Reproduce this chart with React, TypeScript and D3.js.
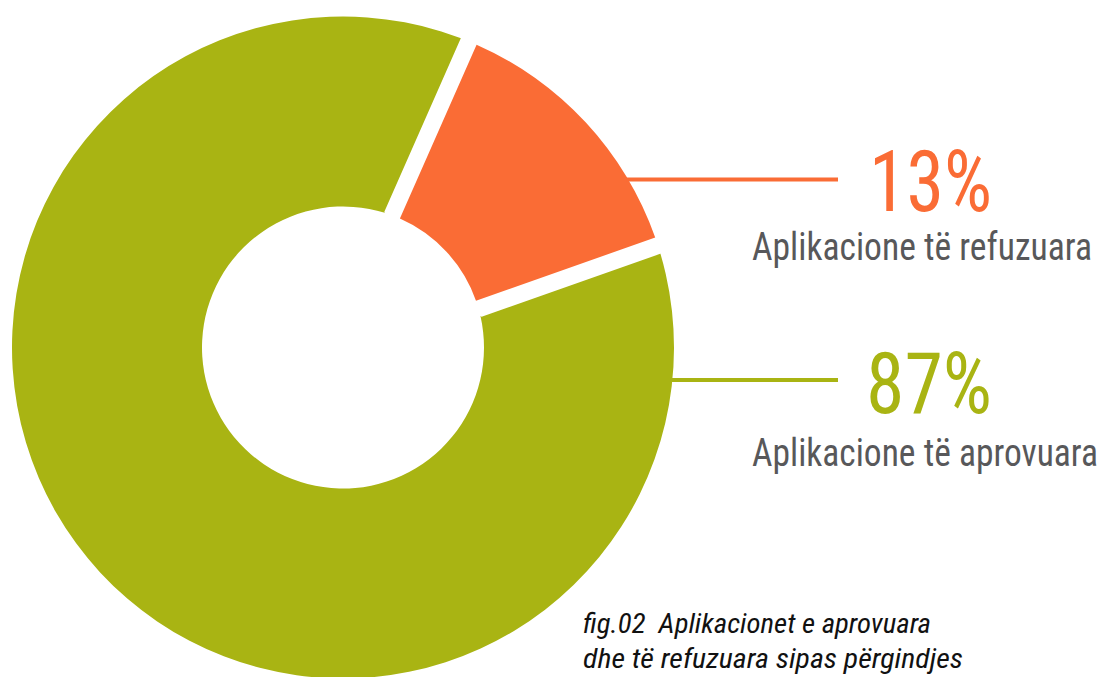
import React, { useEffect, useRef } from "react";
import * as d3 from "d3";

// shares (percent)
const categories = ["refuzuara", "aprovuara"];
const shares = [13, 87];
const percentLabels = ["13%", "87%"];
const categoryLabels = ["Aplikacione të refuzuara", "Aplikacione të aprovuara"];
const captionLines = ["fig.02  Aplikacionet e aprovuara", "dhe të refuzuara sipas përgindjes"];

const colors: Record<string, string> = {
  refuzuara: "#fa6c35",
  aprovuara: "#a9b413",
};

export default function App() {
  const ref = useRef<SVGSVGElement>(null);

  useEffect(() => {
    const svg = d3.select(ref.current);
    svg.selectAll("*").remove();

    const cx = 343;
    const cy = 347.5;
    const outerR = 331;
    const innerR = 141;
    const font = "'Roboto Condensed', 'Liberation Sans Narrow', 'DejaVu Sans Condensed', Roboto, sans-serif";

    const data = categories.map((c, i) => ({ key: c, value: shares[i] }));

    // orange slice starts a bit right of 12 o'clock
    const start = (23.8 * Math.PI) / 180;
    const pie = d3
      .pie<{ key: string; value: number }>()
      .sort(null)
      .value((d) => d.value)
      .startAngle(start)
      .endAngle(start + 2 * Math.PI);

    const arcs = pie(data);
    const arc = d3
      .arc<d3.PieArcDatum<{ key: string; value: number }>>()
      .innerRadius(innerR)
      .outerRadius(outerR);

    const g = svg.append("g").attr("transform", `translate(${cx},${cy})`);

    // green first, then orange with a wide white halo as the gap
    const order = [arcs[1], arcs[0]];
    g.selectAll("path")
      .data(order)
      .join("path")
      .attr("d", arc)
      .attr("fill", (d) => colors[d.data.key])
      .attr("stroke", (d) => (d.data.key === "refuzuara" ? "#fff" : "none"))
      .attr("stroke-width", 34)
      .attr("stroke-linejoin", "bevel")
      .style("paint-order", "stroke");

    // leader lines + labels
    const lineY = [179.5, 380];
    const pctBaseline = [211, 413];
    const labelBaseline = [260, 466];
    const pctLeft = [869, 866];
    const labelWidths = [340, 346];

    categories.forEach((c, i) => {
      const dy = lineY[i] - cy;
      const x0 = cx + Math.sqrt(outerR * outerR - dy * dy) - 2;
      svg
        .append("line")
        .attr("x1", x0)
        .attr("x2", 838)
        .attr("y1", lineY[i])
        .attr("y2", lineY[i])
        .attr("stroke", colors[c])
        .attr("stroke-width", 4);

      svg
        .append("text")
        .attr("x", pctLeft[i])
        .attr("y", pctBaseline[i])
        .attr("fill", colors[c])
        .attr("font-family", font)
        .attr("font-size", 85)
        .attr("textLength", 992 - pctLeft[i])
        .attr("lengthAdjust", "spacingAndGlyphs")
        .text(percentLabels[i]);

      svg
        .append("text")
        .attr("x", 752)
        .attr("y", labelBaseline[i])
        .attr("fill", "#58585a")
        .attr("font-family", font)
        .attr("font-size", 39)
        .attr("textLength", labelWidths[i])
        .attr("lengthAdjust", "spacingAndGlyphs")
        .text(categoryLabels[i]);
    });

    // caption
    const capWidths = [348, 380];
    const capBaselines = [633, 668];
    captionLines.forEach((t, i) => {
      svg
        .append("text")
        .attr("x", 583)
        .attr("y", capBaselines[i])
        .attr("fill", "#111")
        .attr("font-family", font)
        .attr("font-style", "italic")
        .attr("font-size", 28)
        .attr("textLength", capWidths[i])
        .attr("lengthAdjust", "spacingAndGlyphs")
        .style("white-space", "pre")
        .text(t);
    });
  }, []);

  return (
    <svg
      ref={ref}
      width={1106}
      height={677}
      style={{ position: "absolute", left: 0, top: 0, background: "#fff" }}
    />
  );
}
